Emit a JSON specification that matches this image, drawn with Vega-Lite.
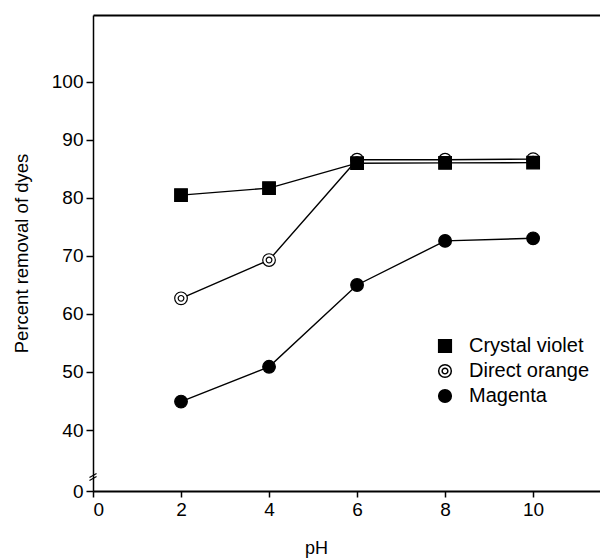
{
  "$schema": "https://vega.github.io/schema/vega-lite/v6.json",
  "autosize": "none",
  "width": 507,
  "height": 476,
  "padding": {"left": 93, "top": 15, "right": 0, "bottom": 68},
  "background": "white",
  "config": {
    "font": "Liberation Sans",
    "view": {"stroke": null},
    "axis": {"grid": false, "domainColor": "black", "tickColor": "black", "labelColor": "black", "titleColor": "black", "titleFontWeight": "normal"}
  },
  "datasets": {
    "dyes": [
      {"dye": "Magenta", "pH": 2, "removal": 44.9},
      {"dye": "Magenta", "pH": 4, "removal": 50.9},
      {"dye": "Magenta", "pH": 6, "removal": 65.0},
      {"dye": "Magenta", "pH": 8, "removal": 72.6},
      {"dye": "Magenta", "pH": 10, "removal": 73.05},
      {"dye": "Direct orange", "pH": 2, "removal": 62.7},
      {"dye": "Direct orange", "pH": 4, "removal": 69.3},
      {"dye": "Direct orange", "pH": 6, "removal": 86.6},
      {"dye": "Direct orange", "pH": 8, "removal": 86.6},
      {"dye": "Direct orange", "pH": 10, "removal": 86.7},
      {"dye": "Crystal violet", "pH": 2, "removal": 80.5},
      {"dye": "Crystal violet", "pH": 4, "removal": 81.7},
      {"dye": "Crystal violet", "pH": 6, "removal": 86.0},
      {"dye": "Crystal violet", "pH": 8, "removal": 86.05},
      {"dye": "Crystal violet", "pH": 10, "removal": 86.1}
    ],
    "axisbreak": [
      {"x": -0.08, "y": 8.9, "x2": 0.08, "y2": 11.5},
      {"x": -0.08, "y": 6.9, "x2": 0.08, "y2": 9.5}
    ]
  },
  "resolve": {"axis": {"x": "independent"}},
  "layer": [
    {
      "data": {"name": "dyes"},
      "mark": {"type": "line", "color": "black", "strokeWidth": 1.4},
      "encoding": {
        "x": {
          "field": "pH", "type": "quantitative",
          "scale": {"domain": [0, 11.52], "nice": false, "zero": false},
          "axis": {"values": [0, 2, 4, 6, 8, 10], "tickSize": 6, "tickWidth": 1.5, "domainWidth": 2, "labelFontSize": 19, "labelPadding": 3, "title": "pH", "titleFontSize": 18, "titleX": 223, "titleY": 62, "titleBaseline": "alphabetic"}
        },
        "y": {
          "field": "removal", "type": "quantitative",
          "scale": {"domain": [0, 40, 111.55], "range": [476, 415, 0], "nice": false, "zero": false},
          "axis": {"values": [0, 40, 50, 60, 70, 80, 90, 100], "tickSize": 7, "tickWidth": 1.5, "domainWidth": 1.5, "labelFontSize": 19, "labelPadding": 3, "title": "Percent removal of dyes", "titleFontSize": 18.5, "titlePadding": 20}
        },
        "detail": {"field": "dye", "type": "nominal"}
      }
    },
    {
      "data": {"name": "dyes"},
      "mark": {"type": "point", "filled": true, "stroke": "black", "strokeWidth": 1.2, "size": 160, "opacity": 1},
      "encoding": {
        "x": {"field": "pH", "type": "quantitative", "axis": null},
        "y": {"field": "removal", "type": "quantitative"},
        "shape": {
          "field": "dye", "type": "nominal",
          "scale": {"domain": ["Crystal violet", "Direct orange", "Magenta"], "range": ["square", "M-1,0A1,1,0,1,1,1,0A1,1,0,1,1,-1,0ZM-0.45,0A0.45,0.45,0,1,1,0.45,0A0.45,0.45,0,1,1,-0.45,0Z", "circle"]},
          "legend": {"orient": "none", "legendX": 342, "legendY": 321, "title": null, "labelFontSize": 20, "labelOffset": 14, "rowPadding": 5, "symbolSize": 160, "labelColor": "black", "encode": {"symbols": {"update": {"stroke": {"value": "black"}, "strokeWidth": {"value": 1.2}}}}}
        },
        "fill": {
          "field": "dye", "type": "nominal",
          "scale": {"domain": ["Crystal violet", "Direct orange", "Magenta"], "range": ["black", "white", "black"]},
          "legend": {"orient": "none", "legendX": 342, "legendY": 321, "title": null, "labelFontSize": 20, "labelOffset": 14, "rowPadding": 5, "symbolSize": 160, "labelColor": "black", "encode": {"symbols": {"update": {"stroke": {"value": "black"}, "strokeWidth": {"value": 1.2}}}}}
        }
      }
    },
    {
      "data": {"name": "axisbreak"},
      "mark": {"type": "rule", "color": "black", "strokeWidth": 1.2},
      "encoding": {
        "x": {"field": "x", "type": "quantitative", "axis": null},
        "x2": {"field": "x2"},
        "y": {"field": "y", "type": "quantitative"},
        "y2": {"field": "y2"}
      }
    },
    {
      "data": {"name": "dyes"},
      "mark": {"type": "point", "opacity": 0},
      "encoding": {
        "x": {"field": "pH", "type": "quantitative", "axis": {"orient": "top", "labels": false, "ticks": false, "domainWidth": 2, "title": null}},
        "y": {"field": "removal", "type": "quantitative"}
      }
    }
  ]
}
